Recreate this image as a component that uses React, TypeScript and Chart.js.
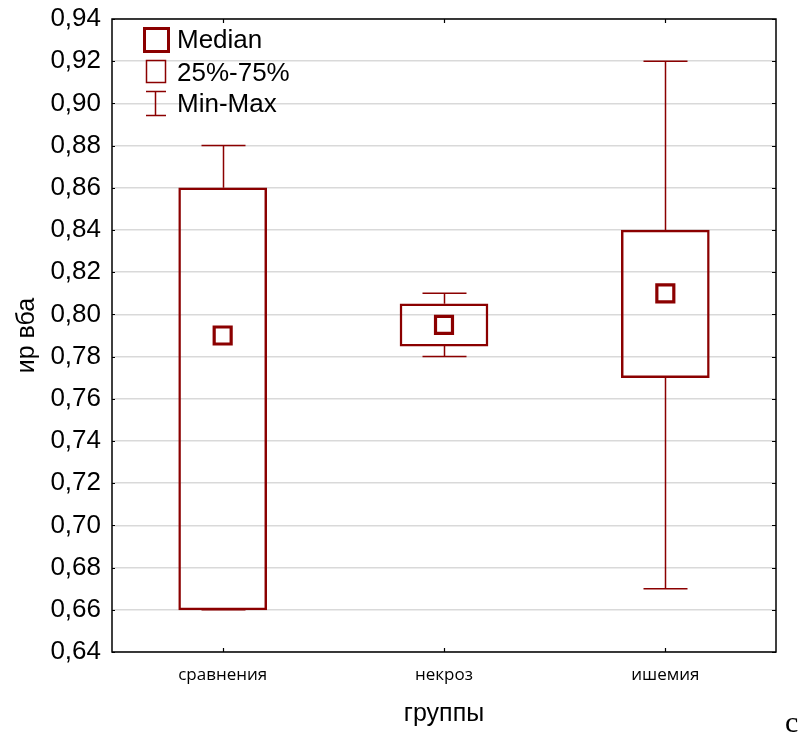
import React, { useEffect, useRef } from "react";
import { Chart, registerables } from "chart.js";

Chart.register(...registerables);

const categories = ["сравнения", "некроз", "ишемия"];
const minValues = [0.66, 0.78, 0.67];
const q1Values = [0.66, 0.785, 0.77];
const medianValues = [0.79, 0.795, 0.81];
const q3Values = [0.86, 0.805, 0.84];
const maxValues = [0.88, 0.81, 0.92];
const legendLabels = ["Median", "25%-75%", "Min-Max"];
const yTitle = "ир вба";
const xTitle = "группы";
const cornerLetter = "c";

const RED = "#8B0000";

const decorPlugin = {
  id: "decor",
  beforeDatasetsDraw(chart: any) {
    const { ctx, scales } = chart;
    const x = scales.x;
    const y = scales.y;
    ctx.save();
    ctx.strokeStyle = RED;
    ctx.lineWidth = 1.5;
    categories.forEach((_, i) => {
      const cx = Math.round(x.getPixelForValue(i)) + 0.5;
      const yMax = y.getPixelForValue(maxValues[i]);
      const yQ3 = y.getPixelForValue(q3Values[i]);
      const yMin = y.getPixelForValue(minValues[i]);
      const yQ1 = y.getPixelForValue(q1Values[i]);
      ctx.beginPath();
      ctx.moveTo(cx, yQ3);
      ctx.lineTo(cx, yMax);
      ctx.moveTo(cx - 22, yMax);
      ctx.lineTo(cx + 22, yMax);
      ctx.moveTo(cx, yQ1);
      ctx.lineTo(cx, yMin);
      ctx.moveTo(cx - 22, yMin);
      ctx.lineTo(cx + 22, yMin);
      ctx.stroke();
    });
    ctx.restore();
  },
  afterDraw(chart: any) {
    const { ctx, chartArea, scales } = chart;
    const { left, top, right, bottom } = chartArea;
    ctx.save();
    // frame
    ctx.strokeStyle = "#000";
    ctx.lineWidth = 1.5;
    ctx.strokeRect(left, top, right - left, bottom - top);
    // inner ticks
    ctx.lineWidth = 1.2;
    ctx.beginPath();
    categories.forEach((_, i) => {
      const cx = Math.round(scales.x.getPixelForValue(i)) + 0.5;
      ctx.moveTo(cx, bottom);
      ctx.lineTo(cx, bottom - 4);
      ctx.moveTo(cx, top);
      ctx.lineTo(cx, top + 4);
    });
    scales.y.ticks.forEach((t: any) => {
      const py = Math.round(scales.y.getPixelForValue(t.value)) + 0.5;
      ctx.moveTo(right, py);
      ctx.lineTo(right - 4, py);
      ctx.moveTo(left, py);
      ctx.lineTo(left + 3, py);
    });
    ctx.stroke();

    // legend
    ctx.strokeStyle = RED;
    ctx.lineWidth = 3;
    ctx.strokeRect(144.5, 28.5, 24, 23);
    ctx.lineWidth = 1.5;
    ctx.strokeRect(146.5, 60.5, 19, 22);
    ctx.beginPath();
    ctx.moveTo(155.5, 91);
    ctx.lineTo(155.5, 116);
    ctx.moveTo(146, 91.5);
    ctx.lineTo(166, 91.5);
    ctx.moveTo(146, 115.5);
    ctx.lineTo(166, 115.5);
    ctx.stroke();
    ctx.fillStyle = "#000";
    ctx.font = '26px "Liberation Sans", Arial, sans-serif';
    ctx.textBaseline = "alphabetic";
    ctx.textAlign = "left";
    ctx.fillText(legendLabels[0], 177, 48);
    ctx.fillText(legendLabels[1], 177, 81);
    ctx.fillText(legendLabels[2], 177, 112);

    // corner letter
    ctx.font = '30px "Liberation Serif", "Times New Roman", serif';
    ctx.fillText(cornerLetter, 785, 732);
    ctx.restore();
  },
};

export default function App() {
  const canvasRef = useRef<HTMLCanvasElement | null>(null);

  useEffect(() => {
    const canvas = canvasRef.current;
    if (!canvas) return;
    const chart = new Chart(canvas, {
      type: "bar",
      data: {
        labels: categories,
        datasets: [
          {
            type: "line",
            label: "Median",
            data: medianValues,
            showLine: false,
            pointStyle: "rect",
            pointRadius: 12,
            pointBorderWidth: 3.2,
            pointBorderColor: RED,
            pointBackgroundColor: "rgba(0,0,0,0)",
            borderColor: RED,
            order: 0,
          } as any,
          {
            type: "bar",
            label: "25%-75%",
            data: q1Values.map((q1, i) => [q1, q3Values[i]]),
            backgroundColor: "rgba(255,255,255,0)",
            borderColor: RED,
            borderWidth: 1.8,
            borderSkipped: false,
            barThickness: 88,
            order: 1,
          } as any,
        ],
      },
      options: {
        responsive: false,
        animation: false,
        events: [],
        layout: { padding: { left: 0, top: 19, right: 27, bottom: 0 } },
        plugins: {
          legend: { display: false },
          tooltip: { enabled: false },
        },
        scales: {
          x: {
            type: "category",
            offset: true,
            grid: { display: false, drawTicks: false },
            border: { display: false },
            ticks: {
              color: "#000",
              padding: 13,
              font: { family: '"Open Sans", sans-serif', size: 17 },
            },
            title: {
              display: true,
              text: xTitle,
              color: "#000",
              font: { family: '"Liberation Sans", Arial, sans-serif', size: 25 },
              padding: { top: 0, bottom: 6 },
            },
            afterFit: (scale: any) => {
              scale.height = 83;
              scale.paddingLeft = 0;
              scale.paddingRight = 0;
            },
          },
          y: {
            min: 0.64,
            max: 0.94,
            grid: {
              color: "#d9d9d9",
              lineWidth: 1.5,
              drawTicks: false,
            },
            border: { display: false },
            ticks: {
              stepSize: 0.02,
              color: "#000",
              padding: 11,
              font: { family: '"Liberation Sans", Arial, sans-serif', size: 26 },
              callback: (v: any) => Number(v).toFixed(2).replace(".", ","),
            },
            title: {
              display: true,
              text: yTitle,
              color: "#000",
              font: { family: '"Liberation Sans", Arial, sans-serif', size: 25 },
              padding: { top: 12, bottom: 0 },
            },
            afterFit: (scale: any) => {
              scale.width = 112;
              scale.paddingTop = 0;
              scale.paddingBottom = 0;
            },
          },
        },
      } as any,
      plugins: [decorPlugin],
    });
    return () => chart.destroy();
  }, []);

  return (
    <div style={{ position: "absolute", left: 0, top: 0, width: 803, height: 735, background: "#fff" }}>
      <canvas ref={canvasRef} width={803} height={735} style={{ width: 803, height: 735 }} />
    </div>
  );
}
